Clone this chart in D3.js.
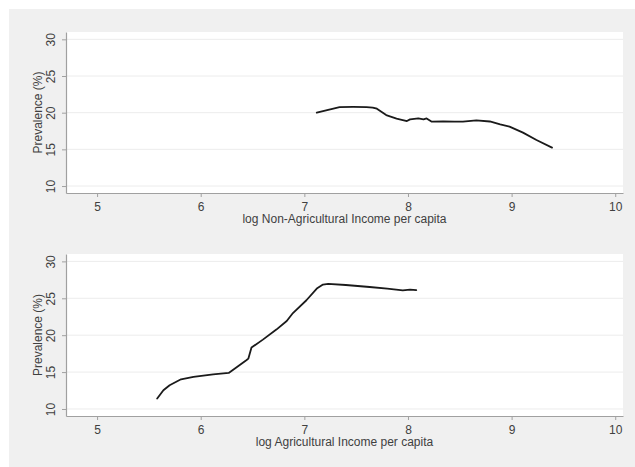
<!DOCTYPE html>
<html>
<head>
<meta charset="utf-8">
<script src="https://cdn.jsdelivr.net/npm/d3@7"></script>
<style>
  html, body { margin: 0; padding: 0; background: #ffffff; }
  svg { display: block; }
</style>
</head>
<body>
<script>
// ---- data ----
const xTicks = [5, 6, 7, 8, 9, 10];
const yTicks = [10, 15, 20, 25, 30];

const nonAgX = [7.12, 7.22, 7.34, 7.47, 7.60, 7.66, 7.70, 7.79, 7.89, 7.99, 8.02, 8.10, 8.15, 8.18, 8.23, 8.34, 8.45, 8.53, 8.66, 8.79, 8.89, 8.98, 9.11, 9.24, 9.39];
const nonAgY = [20.0, 20.35, 20.76, 20.78, 20.76, 20.7, 20.54, 19.68, 19.2, 18.86, 19.09, 19.22, 19.09, 19.22, 18.77, 18.8, 18.78, 18.77, 18.95, 18.8, 18.4, 18.1, 17.28, 16.27, 15.24];

const agX = [5.58, 5.64, 5.70, 5.81, 5.93, 6.12, 6.27, 6.35, 6.44, 6.46, 6.49, 6.60, 6.73, 6.83, 6.89, 7.02, 7.12, 7.18, 7.23, 7.40, 7.63, 7.80, 7.95, 8.02, 8.08];
const agY = [11.41, 12.53, 13.21, 14.02, 14.34, 14.70, 14.88, 15.69, 16.60, 16.83, 18.32, 19.40, 20.76, 21.92, 23.0, 24.73, 26.31, 26.86, 26.94, 26.8, 26.53, 26.3, 26.08, 26.17, 26.1];

const panels = [
  { xTitle: "log Non-Agricultural Income per capita", xs: nonAgX, ys: nonAgY, top: 32, bottom: 193 },
  { xTitle: "log Agricultural Income per capita", xs: agX, ys: agY, top: 254, bottom: 416 }
];

// ---- drawing ----
const W = 635, H = 467;
const left = 66, right = 623;
const font = "'Liberation Sans', Arial, sans-serif";
const textCol = "#404040";
const axisCol = "#a0a0a0";
const fs = 12;

const svg = d3.select("body").append("svg").attr("width", W).attr("height", H);
svg.append("rect").attr("x", 0).attr("y", 0).attr("width", W).attr("height", H).attr("fill", "#ffffff");
svg.append("rect").attr("x", 9).attr("y", 9).attr("width", W - 9).attr("height", H - 9).attr("fill", "#f0f0f0");

panels.forEach(p => {
  const x = d3.scaleLinear().domain([4.7, 10.075]).range([left, right]);
  const y = d3.scaleLinear().domain([9.05, 31]).range([p.bottom, p.top]);
  const g = svg.append("g");

  g.append("rect").attr("x", left).attr("y", p.top)
    .attr("width", right - left).attr("height", p.bottom - p.top).attr("fill", "#ffffff");

  // gridlines
  g.selectAll("line.grid").data(yTicks).enter().append("line")
    .attr("x1", left).attr("x2", right)
    .attr("y1", d => y(d)).attr("y2", d => y(d))
    .attr("stroke", "#ececec").attr("stroke-width", 1);

  // y axis
  const ya = g.append("g").attr("transform", `translate(${left},0)`)
    .call(d3.axisLeft(y).tickValues(yTicks).tickFormat(d3.format("d")).tickSize(4).tickPadding(3).tickSizeOuter(0));
  ya.select(".domain").attr("stroke", axisCol).attr("stroke-width", 1.2);
  ya.selectAll(".tick line").attr("stroke", axisCol);
  ya.selectAll(".tick text")
    .attr("fill", textCol).attr("font-family", font).attr("font-size", fs)
    .attr("x", null).attr("dy", null)
    .attr("text-anchor", "middle")
    .attr("transform", "translate(-11,0) rotate(-90)");

  // x axis
  const xa = g.append("g").attr("transform", `translate(0,${p.bottom})`)
    .call(d3.axisBottom(x).tickValues(xTicks).tickFormat(d3.format("d")).tickSize(4).tickPadding(5).tickSizeOuter(0));
  xa.select(".domain").attr("stroke", axisCol).attr("stroke-width", 1.2);
  xa.selectAll(".tick line").attr("stroke", axisCol);
  xa.selectAll(".tick text")
    .attr("fill", textCol).attr("font-family", font).attr("font-size", fs);

  // titles
  g.append("text").attr("x", (left + right) / 2).attr("y", p.bottom + 30)
    .attr("text-anchor", "middle").attr("fill", textCol)
    .attr("font-family", font).attr("font-size", fs).text(p.xTitle);
  g.append("text")
    .attr("transform", `translate(42,${(p.top + p.bottom) / 2}) rotate(-90)`)
    .attr("text-anchor", "middle").attr("fill", textCol)
    .attr("font-family", font).attr("font-size", fs).text("Prevalence (%)");

  // line
  const pts = p.xs.map((v, i) => [v, p.ys[i]]);
  g.append("path").datum(pts)
    .attr("fill", "none").attr("stroke", "#1a1a1a").attr("stroke-width", 1.8)
    .attr("stroke-linejoin", "round").attr("stroke-linecap", "round")
    .attr("d", d3.line().x(d => x(d[0])).y(d => y(d[1])));
});
</script>
</body>
</html>
